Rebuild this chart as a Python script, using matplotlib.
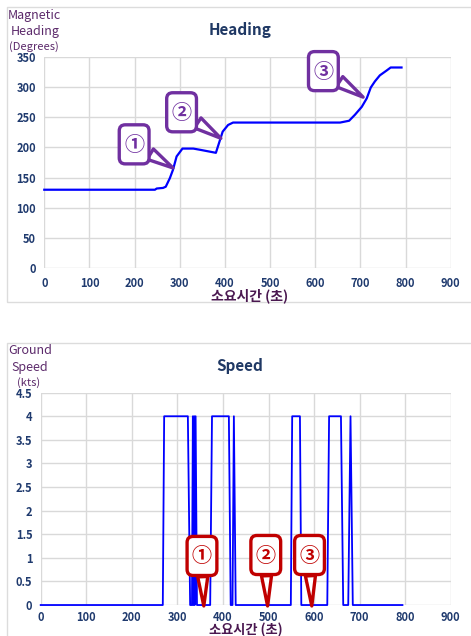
import matplotlib.pyplot as plt
from matplotlib.patches import Rectangle, BoxStyle

plt.rcParams['font.family'] = ['Noto Sans CJK KR', 'DejaVu Sans']

# Heading data (time in s, magnetic heading in degrees)
head_t = [0, 245, 249, 263, 269, 278, 285, 293, 306, 330, 345, 380, 389, 395,
          407, 418, 655, 675, 688, 703, 714, 723, 732, 743, 758, 767, 791]
head_v = [130, 130, 132, 133, 135, 149, 163, 185, 198, 198, 196, 191, 212, 226,
          237, 241, 241, 244, 254, 267, 281, 299, 309, 319, 327, 332, 332]

# Ground speed data (time in s, speed in kts)
spd_t = [0, 268, 271, 323, 328, 332, 334, 335, 337, 338, 340, 343, 346,
         372, 376, 413, 417, 421, 424, 428, 549, 552, 569, 572,
         629, 633, 659, 664, 675, 680, 685, 794]
spd_v = [0, 0, 4, 4, 0, 0, 4, 0, 4, 0, 4, 0, 0,
         0, 4, 4, 0, 0, 4, 0, 0, 4, 4, 0,
         0, 4, 4, 0, 0, 4, 0, 0]

# callout labels: (text, tip x, tip y, box x, box y)
head_notes = [('①', 285, 166, 199, 205), ('②', 391, 215, 304, 258), ('③', 706, 283, 618, 326)]
spd_notes = [('①', 358, -0.02, 354, 1.04), ('②', 498, -0.02, 494, 1.06), ('③', 595, -0.02, 590, 1.06)]

tick_c = '#1f3a6e'
lab_c = '#5c2a6b'
xlab_c = '#4a1850'
grid_c = '#d9d9d9'


def tall_round(x0, y0, width, height, mutation_size):
    # rounded box a bit taller than wide, like the callouts
    r = BoxStyle.Round(pad=0.24, rounding_size=0.3)
    return r(x0, y0 - height * 0.2, width, height * 1.4, mutation_size)


fig = plt.figure(figsize=(4.71, 6.36), dpi=100)
fig.patches.append(Rectangle((7 / 471, 1 - 302 / 636), 1, 295 / 636, transform=fig.transFigure,
                             fill=False, ec='#dcdcdc', lw=1))
fig.patches.append(Rectangle((7 / 471, -0.01), 1, 1 - 343 / 636 + 0.01, transform=fig.transFigure,
                             fill=False, ec='#dcdcdc', lw=1))

ax1 = fig.add_axes([0.094, 0.578, 0.863, 0.333])
ax2 = fig.add_axes([0.0864, 0.0487, 0.8706, 0.3339])


def style(ax, ymax, ystep, fmt):
    ax.set_xlim(0, 900)
    ax.set_ylim(0, ymax)
    ax.set_xticks(range(0, 901, 100))
    yt = [i * ystep for i in range(int(round(ymax / ystep)) + 1)]
    ax.set_yticks(yt)
    ax.set_yticklabels([fmt(v) for v in yt])
    for s in ax.spines.values():
        s.set_visible(False)
    ax.grid(True, color=grid_c, lw=1)
    ax.set_axisbelow(True)
    ax.tick_params(length=0, labelsize=8, labelcolor=tick_c, pad=6)
    for t in ax.get_xticklabels() + ax.get_yticklabels():
        t.set_fontweight('bold')


style(ax1, 350, 50, lambda v: '%d' % v)
style(ax2, 4.5, 0.5, lambda v: ('%g' % v))
ax2.tick_params(axis='x', pad=4)

ax1.plot(head_t, head_v, color='#0000ff', lw=1.6, clip_on=False)
ax2.plot(spd_t, spd_v, color='#0000ff', lw=1.3, clip_on=False)


def callout(ax, notes, col, tw):
    for txt, tx, ty, bx, by in notes:
        ax.annotate(txt, xy=(tx, ty), xytext=(bx, by), textcoords='data',
                    ha='center', va='center', fontsize=14.5, fontweight='bold', color=col,
                    bbox=dict(boxstyle=tall_round, fc='white', ec=col, lw=2.4),
                    arrowprops=dict(arrowstyle='wedge,tail_width=%s,shrink_factor=0.5' % tw,
                                    fc='white', ec=col, lw=2.4, shrinkA=0, shrinkB=0),
                    annotation_clip=False, zorder=5)


callout(ax1, head_notes, '#7030a0', 0.6)
callout(ax2, spd_notes, '#c00000', 0.5)

fig.text(240 / 471, 1 - 30 / 636, 'Heading', ha='center', va='center', fontsize=11,
         fontweight='bold', color='#1f3864')
fig.text(240 / 471, 1 - 366 / 636, 'Speed', ha='center', va='center', fontsize=11,
         fontweight='bold', color='#1f3864')

fig.text(8 / 471, 1 - 16 / 636, 'Magnetic', ha='left', va='center', fontsize=9, color=lab_c)
fig.text(11 / 471, 1 - 32 / 636, 'Heading', ha='left', va='center', fontsize=9, color=lab_c)
fig.text(9 / 471, 1 - 47 / 636, '(Degrees)', ha='left', va='center', fontsize=8, color=lab_c)

fig.text(8 / 471, 1 - 350 / 636, 'Ground', ha='left', va='center', fontsize=9, color=lab_c)
fig.text(11 / 471, 1 - 367 / 636, 'Speed', ha='left', va='center', fontsize=9, color=lab_c)
fig.text(17 / 471, 1 - 383 / 636, '(kts)', ha='left', va='center', fontsize=8, color=lab_c)

fig.text(250 / 471, 1 - 296 / 636, '소요시간 (초)', ha='center', va='center', fontsize=10,
         fontweight='bold', color=xlab_c)
fig.text(246 / 471, 1 - 630 / 636, '소요시간 (초)', ha='center', va='center', fontsize=9.5,
         fontweight='bold', color=xlab_c)

fig.savefig('out.png', dpi=100)
